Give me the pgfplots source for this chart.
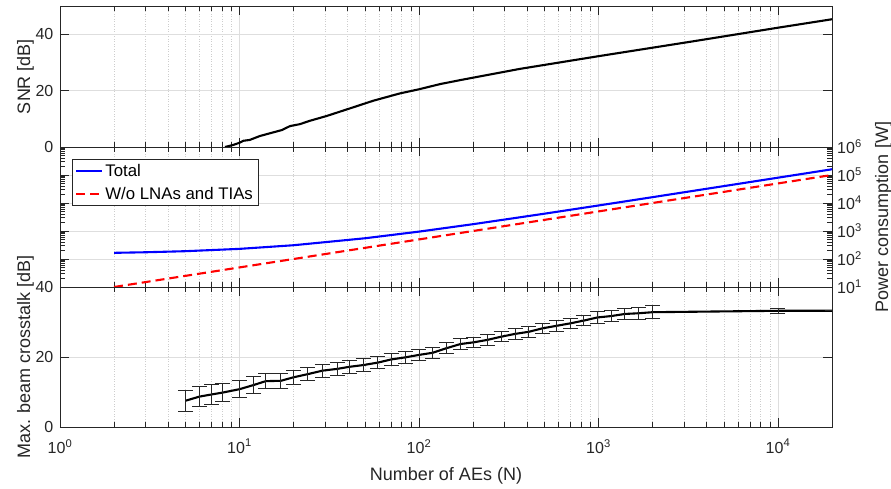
\documentclass[border=0pt]{standalone}
\usepackage{pgfplots}
\pgfplotsset{compat=1.18}
\usepackage{pgfplotstable}
\usepackage{fontspec}
\setmainfont{Liberation Sans}
\definecolor{axgray}{RGB}{38,38,38}
\definecolor{gridgray}{RGB}{222,222,222}
\definecolor{mgridgray}{RGB}{205,205,205}

\pgfplotstableread{
N v
8.3 0
9.2 0.7
10 1.5
10.5 2.2
11.4 2.5
13 3.9
17.2 6.0
19.1 7.4
21.7 8.1
24.7 9.3
30.6 11.0
41.3 13.7
55.6 16.4
78.3 19.0
99 20.4
131 22.3
169 23.7
365 27.7
1000 32.2
3236 37.3
10000 42.3
20000 45.3
}\snrdata

\pgfplotstableread{
N P
2 166
3 174
5 190
10 230
20 310
50 550
100 950
200 1750
500 4150
1000 8150
2000 16150
5000 40150
10000 80150
20000 160150
}\totaldata

\pgfplotstableread{
N P
2 10
5 25
10 50
100 500
1000 5000
10000 50000
20000 100000
}\wodata

\pgfplotstableread{
N v e
5 7.5 3.0
6 8.7 2.8
7 9.3 2.8
8 9.8 2.6
10 10.8 2.5
12 12.0 2.4
14 13.1 2.2
17 13.2 2.1
20 14.2 2.0
24 15.1 1.9
29 16.1 1.9
35 16.6 1.8
41 17.2 1.8
49 17.7 1.8
59 18.4 1.7
70 19.3 1.7
84 19.9 1.7
100 20.6 1.6
119 21.2 1.6
142 22.5 1.6
170 23.7 1.5
202 24.2 1.5
241 24.9 1.5
287 25.8 1.5
343 26.6 1.5
409 27.2 1.5
488 28.2 1.5
582 28.9 1.5
694 29.6 1.5
828 30.4 1.5
987 31.3 1.6
1178 31.7 1.6
1404 32.3 1.6
1675 32.5 1.7
2000 32.8 1.8
10000 33.2 0.8
20000 33.2 0
}\xtalkdata

\pgfplotsset{
  every axis/.append style={
    scale only axis, width=772pt,
    xmin=1, xmax=20000,
    xtick={1,10,100,1000,10000},
    minor xtick={2,3,4,5,6,7,8,9,20,30,40,50,60,70,80,90,200,300,400,500,600,700,800,900,2000,3000,4000,5000,6000,7000,8000,9000},
    xmajorgrids, xminorgrids, ymajorgrids,
    major grid style={draw=gridgray, line width=0.6pt},
    minor grid style={draw=mgridgray, line width=0.5pt, dotted},
    tick align=inside,
    major tick length=9pt, minor tick length=5pt,
    axis line style={axgray, line width=0.6pt},
    tick label style={font=\fontsize{16}{19}\selectfont, text=axgray, inner sep=0pt},
    label style={font=\fontsize{18}{21}\selectfont, text=axgray, inner sep=0pt},
    xticklabel shift=12pt,
    yticklabel shift=6.5pt,
  },
  every tick/.append style={axgray, line width=0.5pt},
}

\begin{document}
\begin{tikzpicture}
\useasboundingbox (-60pt,-62pt) rectangle (831pt,427pt);

% bottom panel
\begin{semilogxaxis}[at={(0pt,0pt)}, anchor=south west, height=140pt,
  ymin=0, ymax=40, ytick={0,20,40}, yticklabels={0,20,40},
  xticklabels={10\textsuperscript{0},10\textsuperscript{1},10\textsuperscript{2},10\textsuperscript{3},10\textsuperscript{4}},
  xlabel={Number of AEs (N)},
  xlabel style={at={(axis description cs:0.5,0)}, anchor=north, yshift=-40pt},
  ylabel={Max. beam crosstalk [dB]},
  ylabel style={at={(axis description cs:-0.0337,0.5)}, anchor=south},
]
\addplot[black, line width=2.1pt,
  error bars/y dir=both, error bars/y explicit,
  error bars/error bar style={black!85, line width=0.9pt},
  error bars/error mark options={black!85, rotate=90, mark size=7.5pt, line width=0.9pt}]
  table[x=N, y=v, y error=e] {\xtalkdata};
\end{semilogxaxis}

% middle panel
\begin{loglogaxis}[at={(0pt,140pt)}, anchor=south west, height=140pt,
  ymin=10, ymax=1000000,
  xticklabels={},
  ytick={10,100,1000,10000,100000,1000000},
  minor ytick={20,30,40,50,60,70,80,90,200,300,400,500,600,700,800,900,2000,3000,4000,5000,6000,7000,8000,9000,20000,30000,40000,50000,60000,70000,80000,90000,200000,300000,400000,500000,600000,700000,800000,900000},
  yticklabels={10\textsuperscript{1},10\textsuperscript{2},10\textsuperscript{3},10\textsuperscript{4},10\textsuperscript{5},10\textsuperscript{6}},
  yticklabel pos=right, yticklabel shift=5pt,
  ylabel={Power consumption [W]},
  ylabel style={at={(axis description cs:1.0557,0.5)}, anchor=north},
  legend style={at={(axis description cs:0.0155,0.914)}, anchor=north west,
    draw=axgray, line width=0.6pt, font=\fontsize{16.8}{20}\selectfont,
    inner xsep=3pt, inner ysep=4pt, row sep=7pt,
    nodes={inner xsep=2pt, inner ysep=1pt}},
  legend cell align=left,
  legend image code/.code={\draw[#1] (0pt,0pt) -- (26pt,0pt);},
]
\addplot[blue, line width=2.1pt] table[x=N, y=P] {\totaldata};
\addlegendentry{Total}
\addplot[red, line width=2.1pt, dash pattern=on 9pt off 5pt] table[x=N, y=P] {\wodata};
\addlegendentry{W/o LNAs and TIAs}
\end{loglogaxis}

% top panel
\begin{semilogxaxis}[at={(0pt,280pt)}, anchor=south west, height=141pt,
  xticklabels={},
  ymin=0, ymax=50, ytick={0,20,40}, yticklabels={0,20,40},
  ylabel={SNR [dB]},
  ylabel style={at={(axis description cs:-0.0337,0.5)}, anchor=south},
]
\addplot[black, line width=2.1pt] table[x=N, y=v] {\snrdata};
\end{semilogxaxis}
\end{tikzpicture}
\end{document}
